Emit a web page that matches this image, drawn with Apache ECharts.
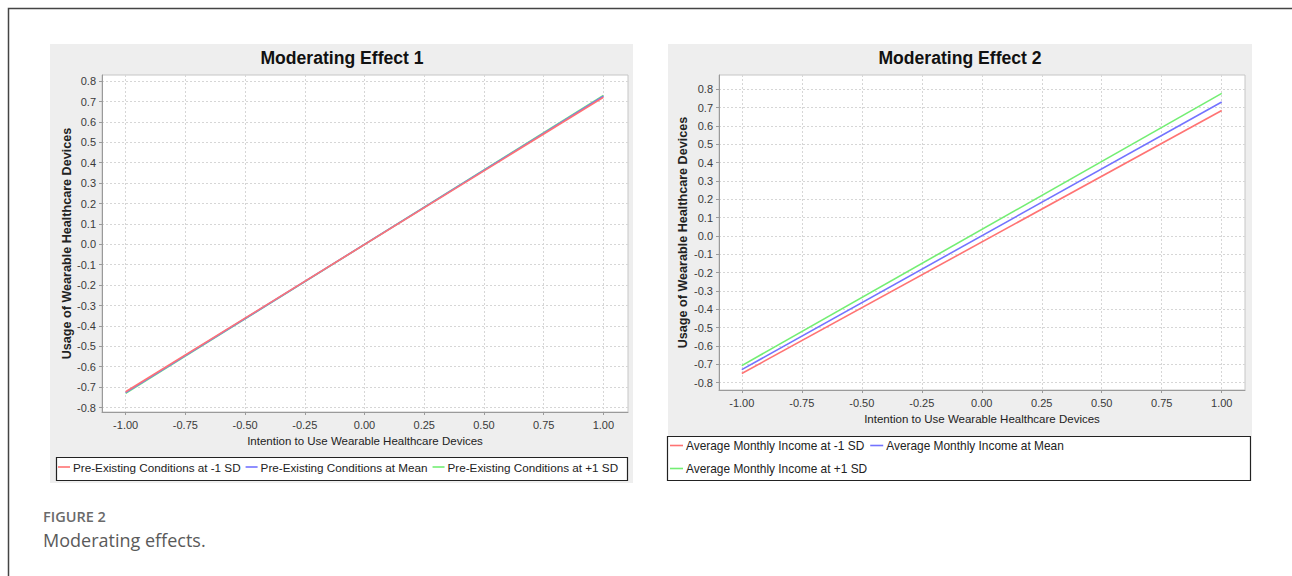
<!DOCTYPE html>
<html><head><meta charset="utf-8">
<script src="https://cdn.jsdelivr.net/npm/echarts@6/dist/echarts.min.js"></script>
<style>html,body{margin:0;padding:0;background:#fff;overflow:hidden}#c{width:1292px;height:576px}</style>
</head><body><div id="c"></div>
<script>
// ---- data ----
const xValues = [-1, 1];
const xTicks = [-1, -0.75, -0.5, -0.25, 0, 0.25, 0.5, 0.75, 1];
const yTicks = [-0.8, -0.7, -0.6, -0.5, -0.4, -0.3, -0.2, -0.1, 0, 0.1, 0.2, 0.3, 0.4, 0.5, 0.6, 0.7, 0.8];
const titles = ['Moderating Effect 1', 'Moderating Effect 2'];
const xAxisTitle = 'Intention to Use Wearable Healthcare Devices';
const yAxisTitle = 'Usage of Wearable Healthcare Devices';
const effect1Names = ['Pre-Existing Conditions at -1 SD', 'Pre-Existing Conditions at Mean', 'Pre-Existing Conditions at +1 SD'];
const effect1Low = [-0.723, 0.721];
const effect1Mean = [-0.727, 0.726];
const effect1High = [-0.731, 0.730];
const effect2Names = ['Average Monthly Income at -1 SD', 'Average Monthly Income at Mean', 'Average Monthly Income at +1 SD'];
const effect2Low = [-0.750, 0.684];
const effect2Mean = [-0.729, 0.731];
const effect2High = [-0.707, 0.778];
const captionLabel = 'FIGURE 2';
const captionText = 'Moderating effects.';

const FONT = '"Liberation Sans",Arial,sans-serif';
const COLORS = ['#ff7373', '#7373ff', '#73ee73'];

const chart = echarts.init(document.getElementById('c'), null, {renderer: 'svg'});

function pts(arr) { return xValues.map((x, i) => [x, arr[i]]); }

function xAxisDef(gi, min, max, gap) {
  return {
    type: 'value', gridIndex: gi, min: min, max: max,
    name: xAxisTitle, nameLocation: 'middle', nameGap: gap,
    nameTextStyle: {fontFamily: FONT, fontSize: 11.5, color: '#222'},
    axisLine: {show: true, onZero: false, lineStyle: {color: '#9a9a9a', width: 1}},
    axisTick: {show: true, length: 3, inside: false, lineStyle: {color: '#9a9a9a'}, customValues: xTicks},
    axisLabel: {customValues: xTicks, margin: 7, fontFamily: FONT, fontSize: 11, color: '#3a3a3a',
      formatter: v => v.toFixed(2)},
    splitLine: {show: true, lineStyle: {color: '#d6d6d6', type: [2, 2], width: 1}}
  };
}
function yAxisDef(gi, min, max, gap) {
  return {
    type: 'value', gridIndex: gi, min: min, max: max,
    name: yAxisTitle, nameLocation: 'middle', nameGap: gap, nameRotate: 90,
    nameTextStyle: {fontFamily: FONT, fontSize: 12.6, fontWeight: 'bold', color: '#222'},
    axisLine: {show: true, onZero: false, lineStyle: {color: '#9a9a9a', width: 1}},
    axisTick: {show: true, length: 3, inside: false, lineStyle: {color: '#9a9a9a'}, customValues: yTicks},
    axisLabel: {customValues: yTicks, margin: 6, fontFamily: FONT, fontSize: 11, color: '#3a3a3a',
      formatter: v => v.toFixed(1)},
    splitLine: {show: true, lineStyle: {color: '#d6d6d6', type: [2, 2], width: 1}}
  };
}
function lineSeries(name, arr, idx, color, z) {
  return {
    type: 'line', name: name, xAxisIndex: idx, yAxisIndex: idx, data: pts(arr),
    showSymbol: false, symbol: 'none', silent: true, z: z,
    lineStyle: {color: color, width: 1.6}, itemStyle: {color: color}
  };
}

const option = {
  animation: false,
  backgroundColor: '#ffffff',
  textStyle: {fontFamily: FONT},
  graphic: [
    {type: 'polyline', shape: {points: [[8.5, 576], [8.5, 8.5], [1292, 8.5]]}, style: {stroke: '#444', lineWidth: 1.5, fill: null}, z: -10},
    {type: 'rect', shape: {x: 50, y: 44, width: 583, height: 439}, style: {fill: '#eeeeee'}, z: -9},
    {type: 'rect', shape: {x: 668, y: 44, width: 584, height: 392}, style: {fill: '#eeeeee'}, z: -9},
    {type: 'rect', shape: {x: 56.5, y: 457.5, width: 571, height: 23}, style: {fill: '#ffffff', stroke: '#222', lineWidth: 1.2}, z: -8},
    {type: 'rect', shape: {x: 667.5, y: 436.5, width: 583, height: 44}, style: {fill: '#ffffff', stroke: '#222', lineWidth: 1.2}, z: -8},
    {type: 'text', x: 342, y: 58, style: {text: titles[0], fontFamily: FONT, fontSize: 17.6, fontWeight: 'bold', fill: '#111', textAlign: 'center', textVerticalAlign: 'middle'}},
    {type: 'text', x: 960, y: 58, style: {text: titles[1], fontFamily: FONT, fontSize: 17.6, fontWeight: 'bold', fill: '#111', textAlign: 'center', textVerticalAlign: 'middle'}},
    {type: 'text', x: 43, y: 516, style: {text: captionLabel, fontFamily: '"Open Sans",sans-serif', fontSize: 14.5, fontWeight: 600, fill: '#6a6a6a', textAlign: 'left', textVerticalAlign: 'middle'}},
    {type: 'text', x: 43, y: 540, style: {text: captionText, fontFamily: '"Open Sans",sans-serif', fontSize: 18, fontWeight: 'normal', fill: '#5a5a5a', textAlign: 'left', textVerticalAlign: 'middle'}}
  ],
  grid: [
    {left: 102, top: 75, width: 526, height: 337, show: true, backgroundColor: '#ffffff', borderColor: '#c6c6c6', borderWidth: 1, containLabel: false},
    {left: 719, top: 75, width: 526, height: 315, show: true, backgroundColor: '#ffffff', borderColor: '#c6c6c6', borderWidth: 1, containLabel: false}
  ],
  xAxis: [xAxisDef(0, -1.099, 1.103, 23), xAxisDef(1, -1.095, 1.097, 23)],
  yAxis: [yAxisDef(0, -0.822, 0.83, 29), yAxisDef(1, -0.84, 0.878, 30)],
  legend: [
    {data: effect1Names, left: 58, top: 461, orient: 'horizontal', padding: 0, itemGap: 5,
      itemWidth: 12, itemHeight: 1.6, icon: 'rect', selectedMode: false,
      textStyle: {fontFamily: FONT, fontSize: 11.7, color: '#222', padding: [0, 0, 0, -2]}},
    {data: effect2Names, left: 670, top: 437, width: 430, orient: 'horizontal', padding: 0, itemGap: 6,
      itemWidth: 13, itemHeight: 1.6, icon: 'rect', selectedMode: false,
      textStyle: {fontFamily: FONT, fontSize: 11.9, color: '#222', lineHeight: 17, padding: [0, 0, 0, -2]}}
  ],
  series: [
    lineSeries(effect1Names[2], effect1High, 0, COLORS[2], 2),
    lineSeries(effect1Names[1], effect1Mean, 0, COLORS[1], 3),
    lineSeries(effect1Names[0], effect1Low, 0, COLORS[0], 4),
    lineSeries(effect2Names[0], effect2Low, 1, COLORS[0], 2),
    lineSeries(effect2Names[1], effect2Mean, 1, COLORS[1], 2),
    lineSeries(effect2Names[2], effect2High, 1, COLORS[2], 2)
  ]
};
chart.setOption(option);
</script></body></html>
